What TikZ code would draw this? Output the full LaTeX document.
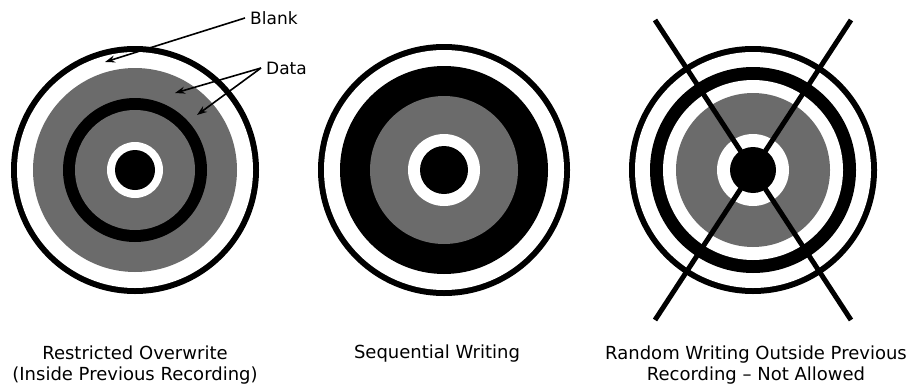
\documentclass[tikz,border=0pt]{standalone}
\usepackage{fontspec}
\setmainfont{DejaVu Sans}
\usepackage{tikz}
\usetikzlibrary{arrows.meta}

\colorlet{datagray}{black!58}

\begin{document}
\begin{tikzpicture}[x=1pt, y=-1pt,
    every node/.style={font=\fontsize{18}{21}\selectfont, inner sep=1pt},
    callout/.style={font=\fontsize{17}{19}\selectfont, anchor=west, inner sep=5pt},
    ink/.style={fill=black},
    blank/.style={fill=white},
    data/.style={fill=datagray},
    pointer/.style={line width=1.6pt, -{Stealth[length=10pt, width=7pt]}},
    crossbar/.style={line width=5pt}]
  \useasboundingbox (0,0) rectangle (912,388);

  % restricted overwrite
  \coordinate (c1) at (135,170);
  \fill[ink]   (c1) circle[radius=124pt];
  \fill[blank] (c1) circle[radius=118pt];
  \fill[data]  (c1) circle[radius=102pt];
  \fill[ink]   (c1) circle[radius=72pt];
  \fill[data]  (c1) circle[radius=60pt];
  \fill[blank] (c1) circle[radius=28pt];
  \fill[ink]   (c1) circle[radius=20pt];

  % sequential writing
  \coordinate (c2) at (444,170);
  \fill[ink]   (c2) circle[radius=126pt];
  \fill[blank] (c2) circle[radius=120pt];
  \fill[ink]   (c2) circle[radius=104pt];
  \fill[data]  (c2) circle[radius=74pt];
  \fill[blank] (c2) circle[radius=36pt];
  \fill[ink]   (c2) circle[radius=24pt];

  % random writing
  \coordinate (c3) at (753,170);
  \fill[ink]   (c3) circle[radius=124pt];
  \fill[blank] (c3) circle[radius=118pt];
  \fill[ink]   (c3) circle[radius=103pt];
  \fill[blank] (c3) circle[radius=90pt];
  \fill[data]  (c3) circle[radius=77pt];
  \fill[blank] (c3) circle[radius=36pt];
  \fill[ink]   (c3) circle[radius=23pt];

  \coordinate (x1) at (655,20);
  \coordinate (x2) at (851,320);
  \coordinate (x3) at (851,20);
  \coordinate (x4) at (655,320);
  \draw[crossbar] (x1) -- (x2);
  \draw[crossbar] (x3) -- (x4);

  % callouts
  \node[callout] (blanklbl) at (245,18) {Blank};
  \node[callout] (datalbl) at (261,68) {Data};
  \coordinate (blanktip) at (105,62);
  \coordinate (datatip1) at (175,93);
  \coordinate (datatip2) at (197,115);
  \draw[pointer] (blanklbl.west) -- (blanktip);
  \draw[pointer] (datalbl.west) -- (datatip1);
  \draw[pointer] (datalbl.west) -- (datatip2);

  % captions
  \node[align=center] (cap1) at (135,365) {Restricted Overwrite\\(Inside Previous Recording)};
  \node (cap2) at (437,354) {Sequential Writing};
  \node[align=center] (cap3) at (756,365) {Random Writing Outside Previous\\Recording -- Not Allowed};
\end{tikzpicture}
\end{document}
